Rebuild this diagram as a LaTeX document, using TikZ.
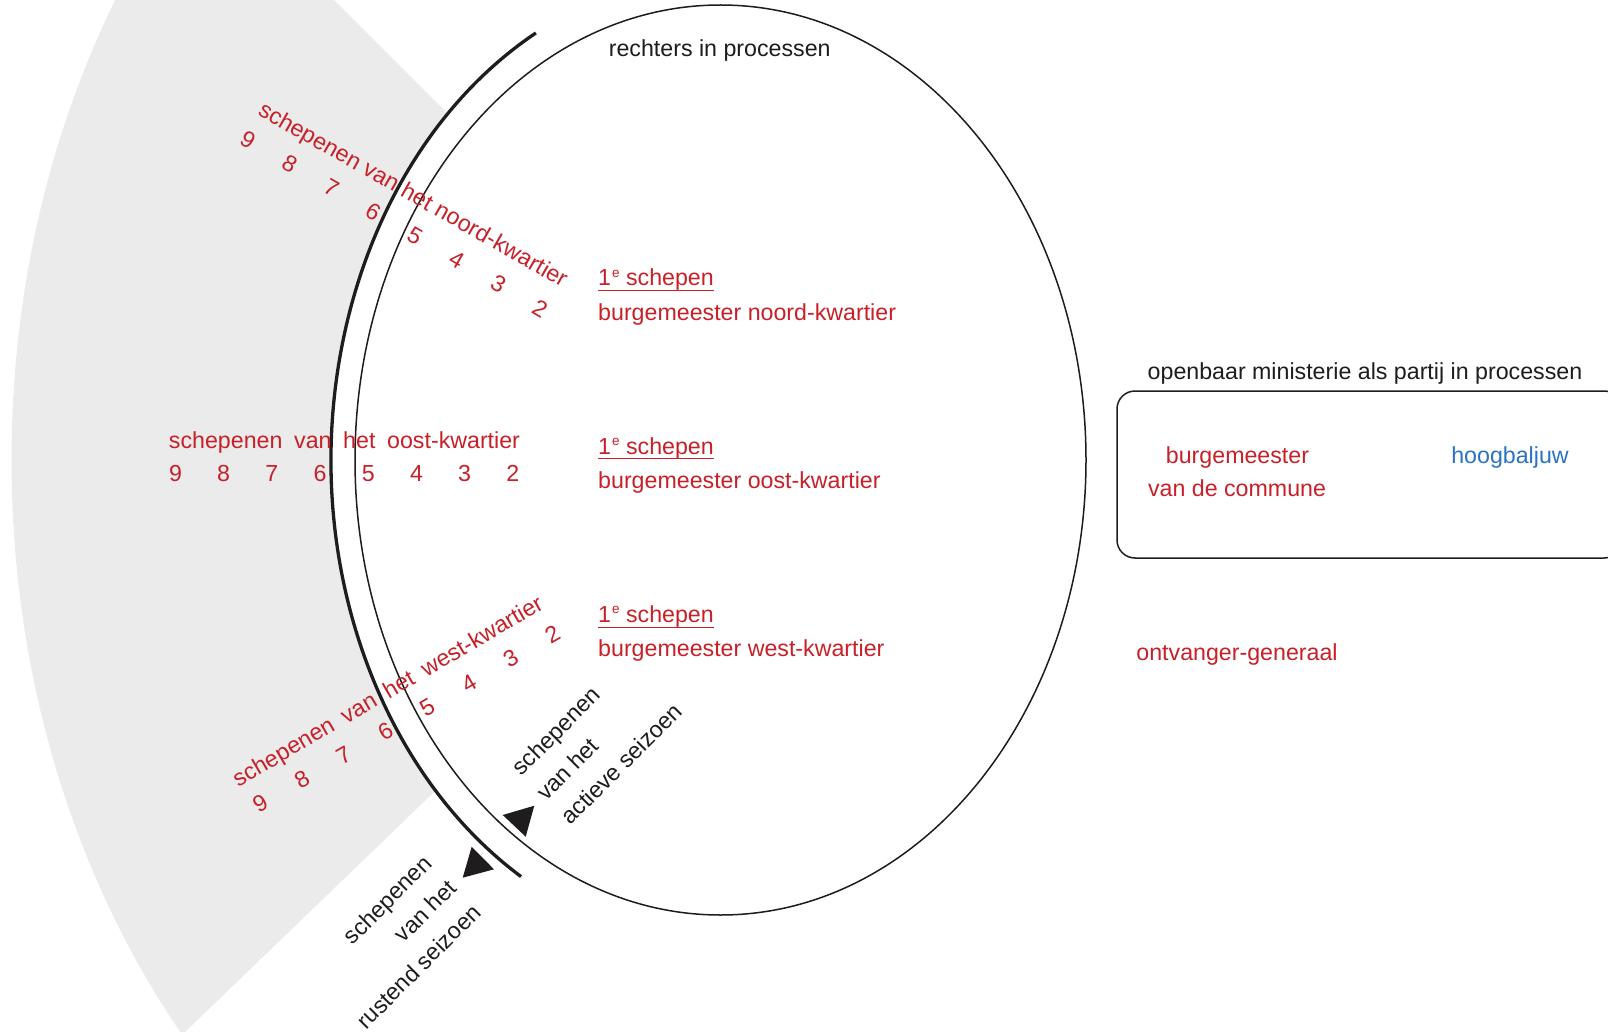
\documentclass[tikz,border=0pt]{standalone}
\usepackage{fontspec}
\setmainfont{Liberation Sans}
\definecolor{myred}{RGB}{200,32,40}
\definecolor{myblue}{RGB}{40,115,195}
\definecolor{ink}{RGB}{30,28,28}
\definecolor{wedgegray}{RGB}{235,235,235}
\newcommand\digitrow{9\hspace{35.3pt}8\hspace{35.3pt}7\hspace{35.3pt}6\hspace{35.3pt}5\hspace{35.3pt}4\hspace{35.3pt}3\hspace{35.3pt}2}
\newcommand\myul[1]{\setbox0=\hbox{#1}\rlap{\rule[-5.4pt]{\wd0}{1.4pt}}\box0}
\newcommand\eerste{\myul{1\hspace{1pt}\raisebox{9pt}{\fontsize{13.5}{14}\selectfont e} schepen}}
\tikzset{
  lbl/.style={inner sep=0pt, font=\fontsize{23.2}{34.7}\selectfont},
  redlbl/.style={lbl, text=myred},
  blk/.style={lbl, text=ink},
  thickarc/.style={draw=ink, line width=3.3pt},
  thinline/.style={draw=ink, line width=1.5pt},
}
\begin{document}
\begin{tikzpicture}[x=1pt,y=1pt]
\useasboundingbox (0,0) rectangle (1608,-1032);
\coordinate (C) at (720.5,-460);
% gray wedge
\begin{scope}
  \clip (0,0) rectangle (1608,-1032);
  \clip (786.5,-452.5) -- (-266,600) -- (-700,600) -- (-700,-1743) -- (-553,-1743) -- cycle;
  \fill[wedgegray] (C) ellipse [x radius=709pt, y radius=883pt];
\end{scope}
% outer white ellipse and arcs
\fill[white] (C) ellipse [x radius=389.5pt, y radius=485pt];
\draw[thickarc] ([shift={(C)}]118.3:389.5pt and 485pt) arc[start angle=118.3, end angle=239.2, x radius=389.5pt, y radius=485pt];
\draw[thinline] (C) ellipse [x radius=365.5pt, y radius=455pt];

\node[blk, anchor=base] (rech) at (719.7,-57) {rechters in processen};

% noord
\node[redlbl, rotate=-29.6] (nt) at (412.5,-196) {schepenen van het noord-kwartier};
\node[redlbl, rotate=-30] (nd) at (394,-224) {\digitrow};
% oost
\node[redlbl, anchor=base] (ot) at (344.5,-448) {schepenen\hspace{11.7pt}van\hspace{11.7pt}het\hspace{11.7pt}oost-kwartier};
\node[redlbl, anchor=base] (od) at (344.2,-481.7) {\digitrow};
% west
\node[redlbl, rotate=30.3] (wt) at (388.5,-692.5) {schepenen\hspace{11.7pt}van\hspace{11.7pt}het\hspace{11.7pt}west-kwartier};
\node[redlbl, rotate=30] (wd) at (406.4,-719) {\digitrow};

% first schepenen / burgemeesters
\node[redlbl, anchor=base west] (n1) at (598,-286) {\eerste};
\node[redlbl, anchor=base west] (n2) at (598,-320) {burgemeester noord-kwartier};
\node[redlbl, anchor=base west] (o1) at (598,-454) {\eerste};
\node[redlbl, anchor=base west] (o2) at (598,-488) {burgemeester oost-kwartier};
\node[redlbl, anchor=base west] (w1) at (598,-622.7) {\eerste};
\node[redlbl, anchor=base west] (w2) at (598,-656) {burgemeester west-kwartier};

% seasons
\node[blk, rotate=45, align=left] (act) at (597,-739) {schepenen\\van het\\actieve seizoen};
\node[blk, rotate=45, align=right] (rust) at (394,-942) {schepenen\\van het\\rustend seizoen};
\fill[ink] (502.7,-815) -- (534.3,-805.7) -- (525.7,-836.7) -- cycle;
\fill[ink] (471.7,-846.7) -- (494,-869.3) -- (462.7,-877.7) -- cycle;

% right box
\draw[thinline, rounded corners=18pt] (1117,-391) rectangle (1622,-558);
\node[blk, anchor=base] (om) at (1365,-379) {openbaar ministerie als partij in processen};
\node[redlbl, anchor=base] (bc1) at (1237.5,-463) {burgemeester};
\node[redlbl, anchor=base] (bc2) at (1237,-496.7) {van de commune};
\node[lbl, text=myblue, anchor=base] (hb) at (1510,-463) {hoogbaljuw};
\node[redlbl, anchor=base] (og) at (1237,-660) {ontvanger-generaal};
\end{tikzpicture}
\end{document}
